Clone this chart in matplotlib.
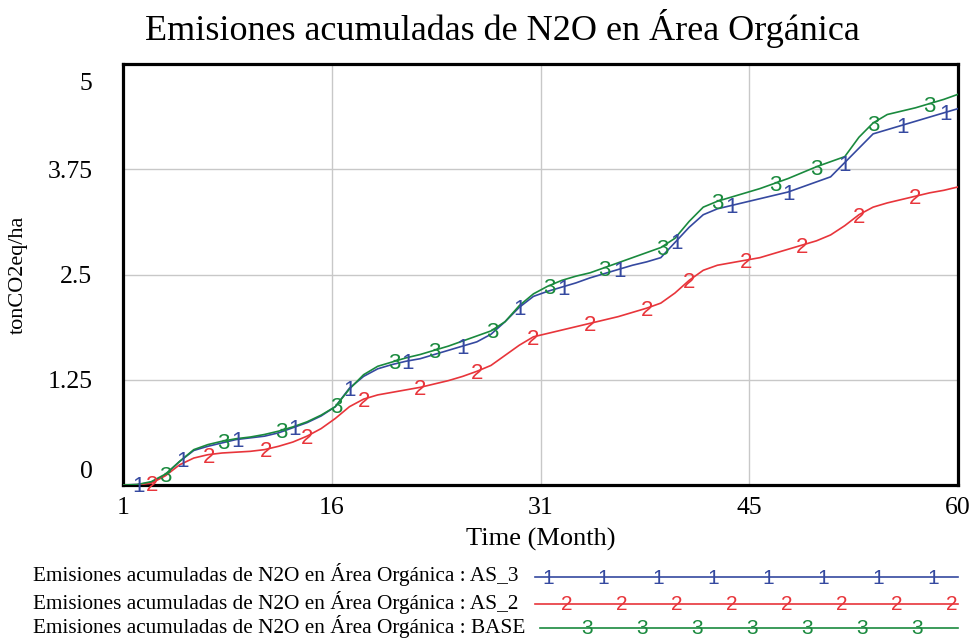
import numpy as np
import matplotlib
matplotlib.use("Agg")
import matplotlib.pyplot as plt
from matplotlib.lines import Line2D
from matplotlib.transforms import ScaledTranslation

# monthly values
months = np.arange(1, 61)
as3 = [0, 0.005, 0.03, 0.12, 0.28, 0.41, 0.46, 0.50, 0.54, 0.56,
       0.58, 0.62, 0.68, 0.74, 0.82, 0.93, 1.15, 1.29, 1.38, 1.43,
       1.47, 1.50, 1.55, 1.60, 1.65, 1.70, 1.79, 1.94, 2.11, 2.24,
       2.30, 2.35, 2.40, 2.46, 2.51, 2.56, 2.61, 2.65, 2.70, 2.88,
       3.06, 3.21, 3.28, 3.32, 3.36, 3.40, 3.44, 3.48, 3.54, 3.60,
       3.66, 3.83, 4.00, 4.17, 4.22, 4.27, 4.32, 4.37, 4.42, 4.47]
as2 = [0, 0.003, 0.02, 0.11, 0.24, 0.32, 0.36, 0.38, 0.39, 0.40,
       0.42, 0.46, 0.51, 0.58, 0.67, 0.79, 0.93, 1.02, 1.07, 1.10,
       1.13, 1.16, 1.20, 1.24, 1.29, 1.35, 1.42, 1.54, 1.66, 1.76,
       1.80, 1.84, 1.88, 1.92, 1.96, 2.00, 2.05, 2.10, 2.16, 2.28,
       2.43, 2.55, 2.61, 2.64, 2.67, 2.70, 2.75, 2.80, 2.85, 2.90,
       2.97, 3.08, 3.21, 3.30, 3.35, 3.39, 3.43, 3.47, 3.50, 3.54]
base = [0, 0.005, 0.04, 0.13, 0.28, 0.42, 0.48, 0.52, 0.55, 0.57,
        0.60, 0.64, 0.69, 0.75, 0.83, 0.93, 1.14, 1.31, 1.41, 1.46,
        1.51, 1.55, 1.60, 1.65, 1.71, 1.77, 1.83, 1.94, 2.13, 2.27,
        2.36, 2.43, 2.48, 2.52, 2.58, 2.64, 2.70, 2.76, 2.82, 2.93,
        3.13, 3.30, 3.37, 3.42, 3.47, 3.52, 3.58, 3.64, 3.71, 3.78,
        3.84, 3.90, 4.13, 4.30, 4.40, 4.44, 4.48, 4.53, 4.58, 4.64]

# where the series numbers sit along each line (month)
as3_marks = [2.1, 5.2, 9.1, 13.1, 17, 21.1, 25, 29, 32.1, 36.1, 40.1, 44, 48, 52, 56.1, 59.1]
as2_marks = [3.05, 7.1, 11.1, 14, 18, 22, 26, 30, 34, 38, 41, 45, 49, 53, 57]
base_marks = [4, 8.1, 12.2, 16.1, 20.2, 23, 27.1, 31.1, 35, 39.1, 43, 47.1, 50, 54, 58]

x_ticks = [1, 15.75, 30.5, 45.25, 60]
x_labels = ["1", "16", "31", "45", "60"]
y_ticks = [0, 1.25, 2.5, 3.75, 5]
y_labels = ["0", "1.25", "2.5", "3.75", "5"]

title = "Emisiones acumuladas de N2O en Área Orgánica"
series = [
    ("AS_3", as3, as3_marks, "1", "#3549A0"),
    ("AS_2", as2, as2_marks, "2", "#E8353B"),
    ("BASE", base, base_marks, "3", "#1A8A3E"),
]

serif = "Liberation Serif"
sans = "Liberation Sans"
W, H = 973, 641

fig = plt.figure(figsize=(W / 100, H / 100), dpi=100)
ax = fig.add_axes([123 / W, 1 - 485 / H, (958 - 123) / W, (485 - 64) / H])

for name, vals, marks, num, col in series:
    ax.plot(months, vals, color=col, lw=1.2, zorder=3)
    ym = np.interp(marks, months, vals)
    for xm, yv in zip(marks, ym):
        ax.text(xm, yv, num, color=col, fontsize=16, family=sans,
                ha="center", va="center_baseline", zorder=4)

ax.set_xlim(1, 60)
ax.set_ylim(0, 5)
ax.set_xticks(x_ticks, x_labels)
ax.set_yticks(y_ticks, y_labels)
ax.grid(True, color="#C8C8C8", lw=1)
ax.set_axisbelow(True)
ax.tick_params(length=0, labelsize=18.5, pad=9)
ax.tick_params(axis="y", pad=22)
for lab in ax.get_xticklabels() + ax.get_yticklabels():
    lab.set_family(serif)
# end labels on the value axis sit inside the range
ylabs = ax.get_yticklabels()
ylabs[0].set_transform(ylabs[0].get_transform() + ScaledTranslation(0, 15 / 100, fig.dpi_scale_trans))
ylabs[-1].set_transform(ylabs[-1].get_transform() + ScaledTranslation(0, -17 / 100, fig.dpi_scale_trans))
for s in ax.spines.values():
    s.set_linewidth(2.3)
    s.set_color("black")

ax.set_xlabel("Time (Month)", family=serif, fontsize=19, labelpad=6)
fig.text(18 / W, 1 - 275 / H, "tonCO2eq/ha", rotation=90, family=serif,
         fontsize=16, ha="center", va="center")
fig.text(502 / W, 1 - 29 / H, title, family=serif, fontsize=26,
         ha="center", va="center")

# legend rows below the axis
rows_y = [575, 602, 626]
line_x = [(535, 958), (535, 958), (540, 958)]
num_start = [548, 567, 587]
num_count = [8, 8, 7]
for (name, vals, marks, num, col), yr, (x0, x1), ns, nc in zip(series, rows_y, line_x, num_start, num_count):
    fig.text(33 / W, 1 - yr / H, f"{title} : {name}", family=serif,
             fontsize=15.3, ha="left", va="center")
    fig.add_artist(Line2D([x0 / W, x1 / W], [1 - (yr + 2) / H] * 2,
                          color=col, lw=1.2, transform=fig.transFigure))
    for k in range(nc):
        fig.text((ns + 55 * k) / W, 1 - (yr + 3) / H, num, color=col,
                 family=sans, fontsize=15, ha="center", va="center")

fig.savefig("out.png", dpi=100)
